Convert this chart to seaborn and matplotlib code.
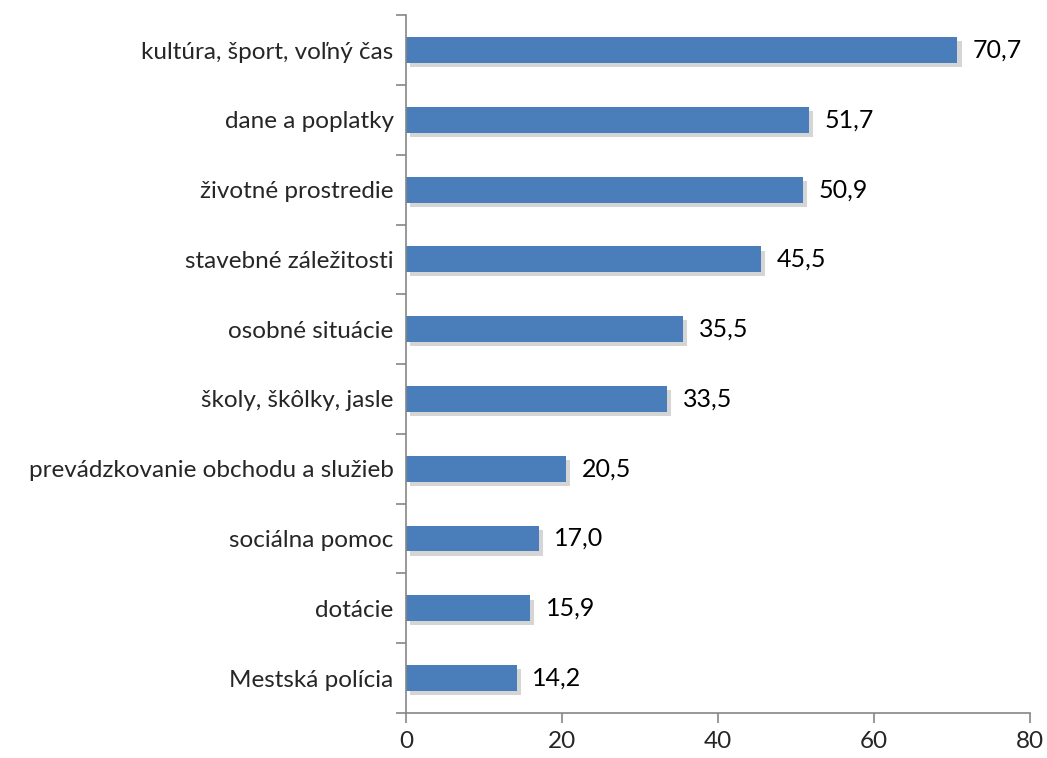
import numpy as np
import pandas as pd
import seaborn as sns
import matplotlib.pyplot as plt
import matplotlib.patheffects as pe

categories = ['kultúra, šport, voľný čas', 'dane a poplatky', 'životné prostredie',
              'stavebné záležitosti', 'osobné situácie', 'školy, škôlky, jasle',
              'prevádzkovanie obchodu a služieb', 'sociálna pomoc', 'dotácie',
              'Mestská polícia']
values = [70.7, 51.7, 50.9, 45.5, 35.5, 33.5, 20.5, 17.0, 15.9, 14.2]
xticks = [0, 20, 40, 60, 80]

df = pd.DataFrame({'kategoria': categories, 'hodnota': values})

sns.set_style('white')
plt.rcParams['font.family'] = ['Lato', 'DejaVu Sans']

fig = plt.figure(figsize=(10.47, 7.58), dpi=100)
ax = fig.add_axes([0.3878, 0.0594, 0.5960, 0.9206])

sns.barplot(data=df, y='kategoria', x='hodnota', orient='h', color='#4a7ebb',
            saturation=1, width=0.37, linewidth=0, ax=ax)
for p in ax.patches:
    p.set_path_effects([pe.SimplePatchShadow(offset=(3, -3), shadow_rgbFace='#888888', alpha=0.35),
                        pe.Normal()])

for i, v in enumerate(values):
    ax.text(v + 2.0, i, f'{v:.1f}'.replace('.', ','), va='center', ha='left',
            fontsize=18, color='black')

ax.set_xlim(0, 80)
ax.set_ylim(len(categories) - 0.5, -0.5)
ax.set_xticks(xticks)
ax.set_xticklabels([str(t) for t in xticks], fontsize=17.5)
ax.set_yticks(range(len(categories)))
ax.set_yticklabels(categories, fontsize=17.5)
ax.set_yticks(np.arange(-0.5, len(categories)), minor=True)
ax.tick_params(left=True, bottom=True)
ax.tick_params(axis='y', which='major', length=0, pad=9)
ax.tick_params(axis='y', which='minor', left=True, length=7, color='#868686', width=1.2, direction='out')
ax.tick_params(axis='x', which='major', length=7, color='#868686', width=1.2, direction='out', pad=6)
ax.set_xlabel('')
ax.set_ylabel('')
for s in ['top', 'right']:
    ax.spines[s].set_visible(False)
for s in ['left', 'bottom']:
    ax.spines[s].set_color('#868686')
    ax.spines[s].set_linewidth(1.2)

fig.savefig('out.png', dpi=100, facecolor='white')
